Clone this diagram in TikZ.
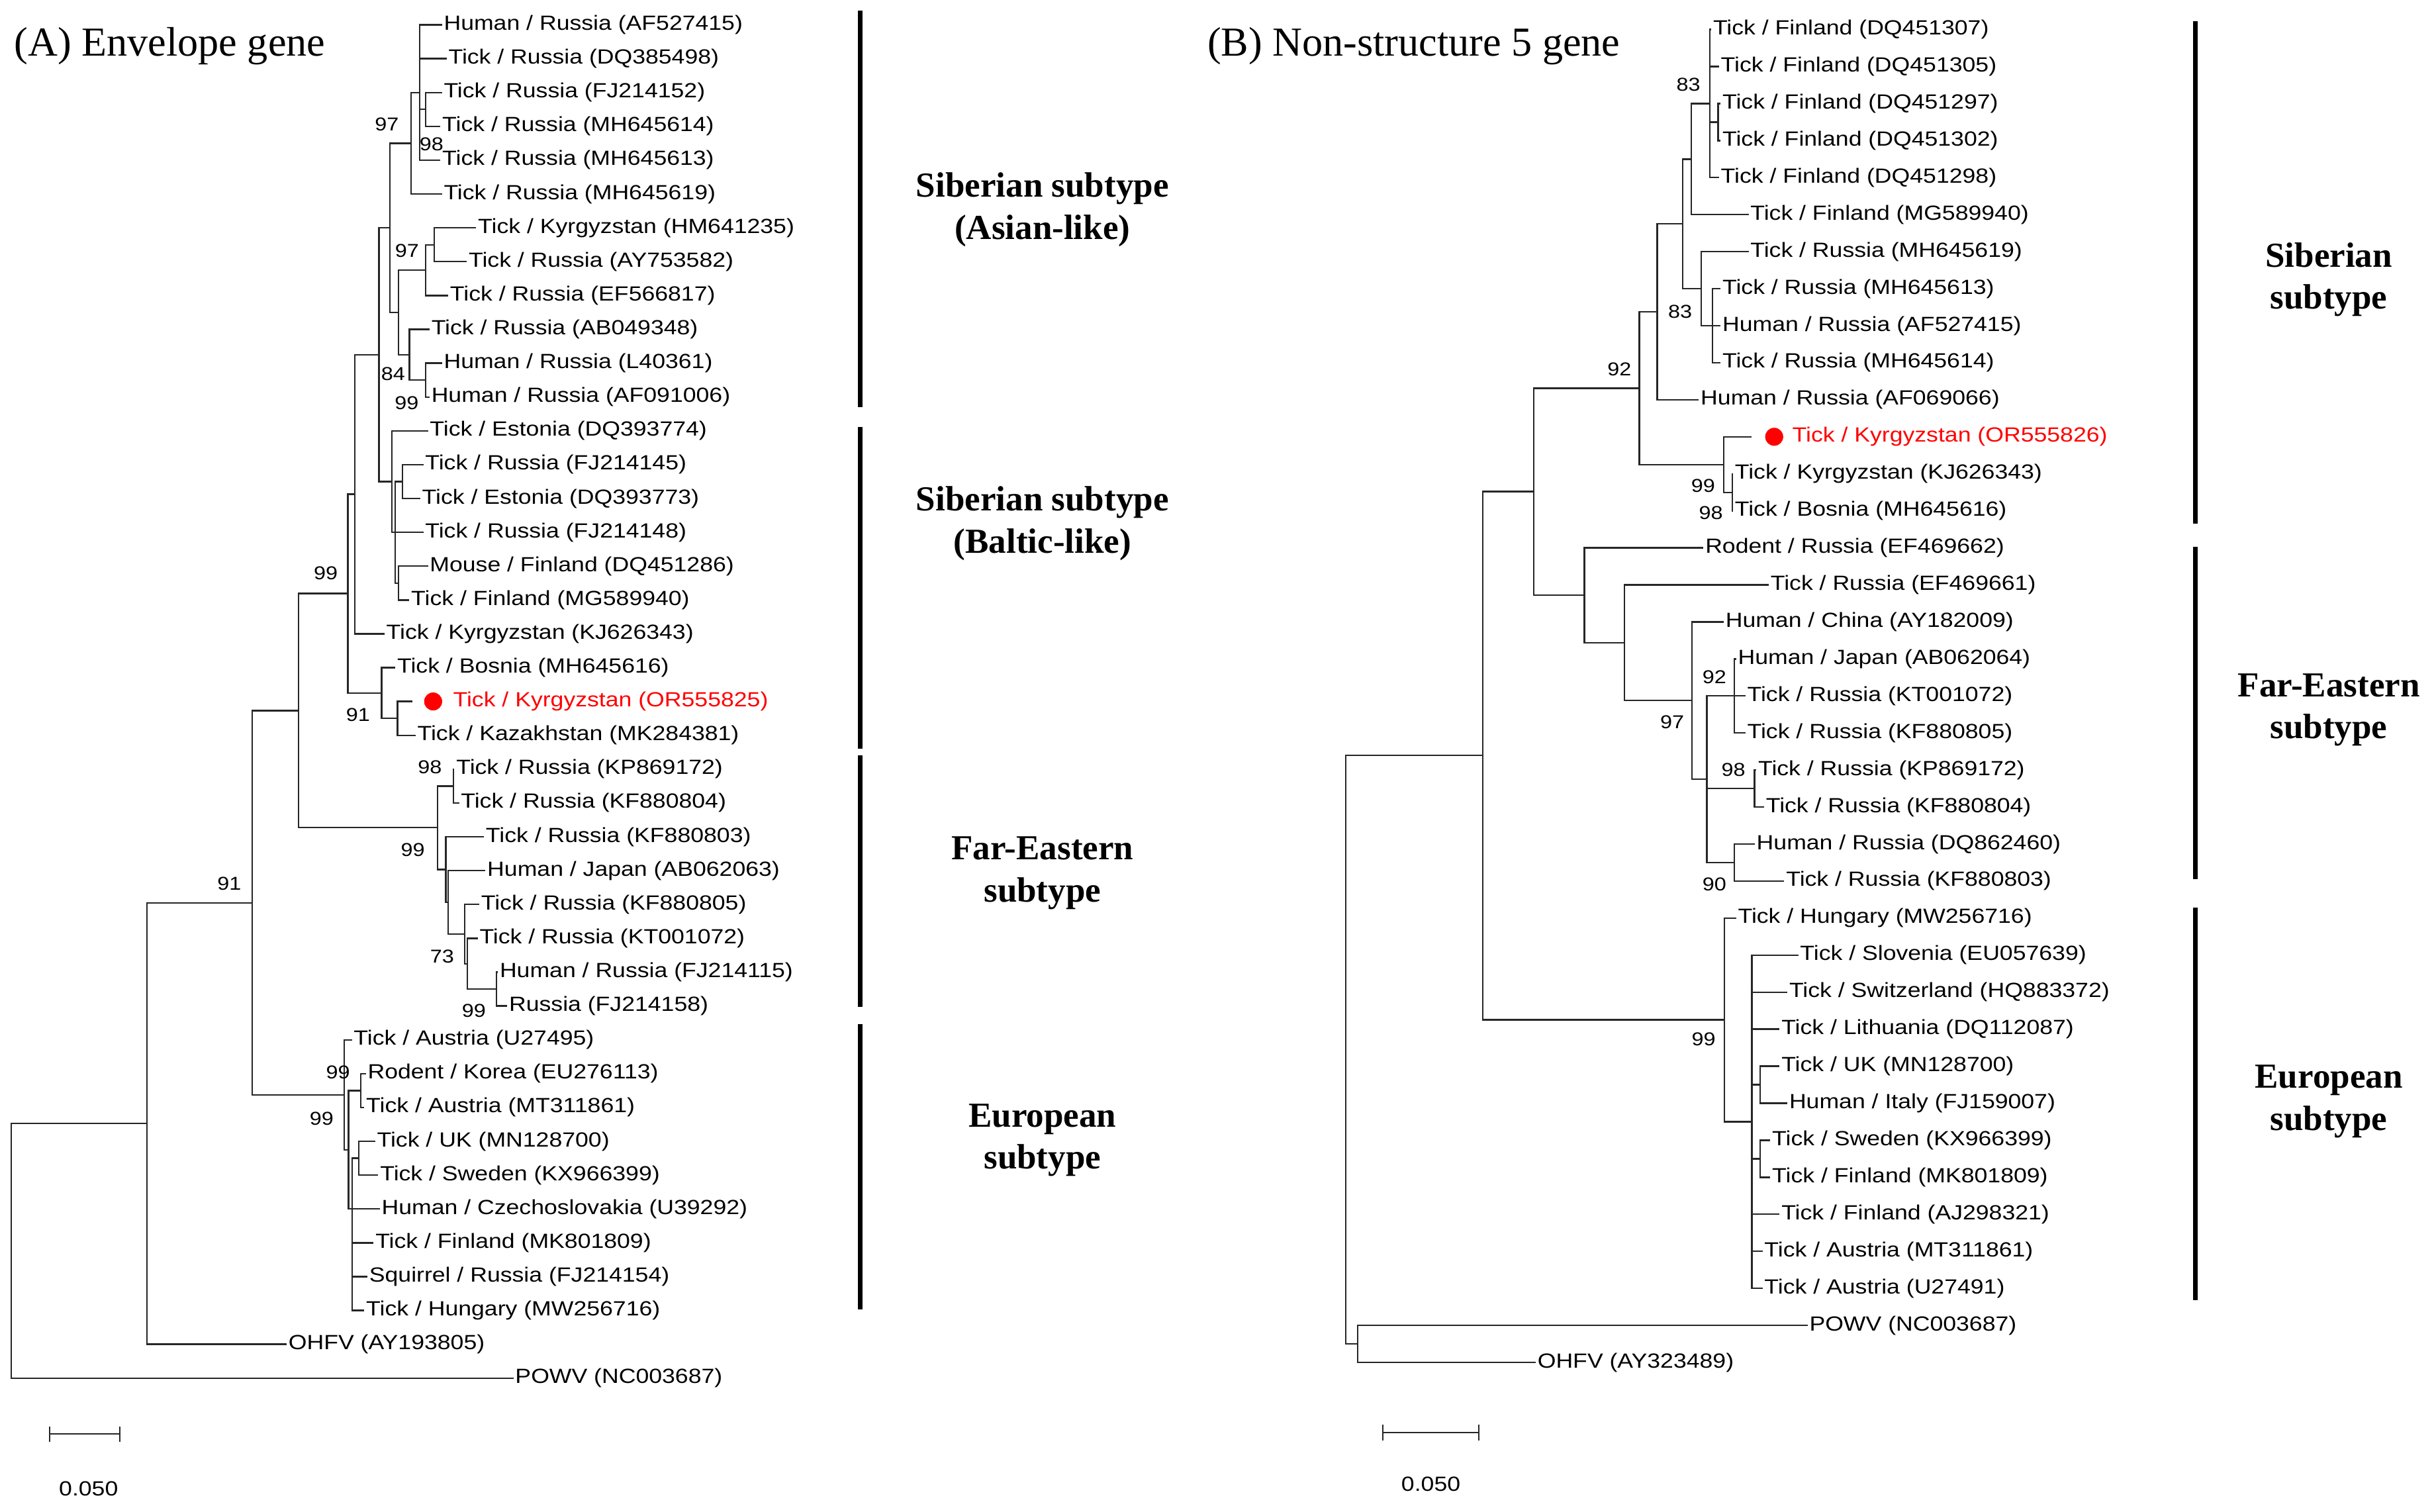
\documentclass[tikz,border=0pt]{standalone}
\usepackage{fontspec}
\newfontfamily\tipfamily[FakeStretch=1.15]{Liberation Sans}
\newfontfamily\serifamily{Liberation Serif}
\newcommand\tipfont{\tipfamily\fontsize{13.2}{15}\selectfont}
\newcommand\bootfont{\tipfamily\fontsize{12}{14}\selectfont}
\newcommand\cladefont{\serifamily\bfseries\fontsize{22.6}{27}\selectfont}
\newcommand\panelfont{\serifamily\fontsize{26.5}{30}\selectfont}

\tikzset{
branch/.style={draw=black!85,line width=1pt},
tip/.style={anchor=west,inner sep=1pt,font=\tipfont},
boot/.style={inner sep=0pt,font=\bootfont},
hit dot/.style={circle,fill=red,inner sep=0pt,minimum size=11.6pt},
clade bar/.style={line width=3pt},
clade name/.style={align=center,font=\cladefont},
panel title/.style={anchor=west,inner sep=0pt,font=\panelfont},
}

\begin{document}
\begin{tikzpicture}[x=1pt,y=-1pt]
\useasboundingbox (0,0) rectangle (1568,973);

\node[panel title] (e-title) at (9,29.5) {(A) Envelope gene};
\node[panel title] (n-title) at (777,29.5) {(B) Non-structure 5 gene};

% (A) envelope tree, one unit of y per row
\begin{scope}[y=-21.775pt,yshift=5.775pt]
\foreach \x/\c/\t [count=\i] in {
286/black/{Human / Russia (AF527415)},
289/black/{Tick / Russia (DQ385498)},
286/black/{Tick / Russia (FJ214152)},
285/black/{Tick / Russia (MH645614)},
285/black/{Tick / Russia (MH645613)},
286/black/{Tick / Russia (MH645619)},
308/black/{Tick / Kyrgyzstan (HM641235)},
302/black/{Tick / Russia (AY753582)},
290/black/{Tick / Russia (EF566817)},
278/black/{Tick / Russia (AB049348)},
286/black/{Human / Russia (L40361)},
278/black/{Human / Russia (AF091006)},
277/black/{Tick / Estonia (DQ393774)},
274/black/{Tick / Russia (FJ214145)},
272/black/{Tick / Estonia (DQ393773)},
274/black/{Tick / Russia (FJ214148)},
277/black/{Mouse / Finland (DQ451286)},
265/black/{Tick / Finland (MG589940)},
249/black/{Tick / Kyrgyzstan (KJ626343)},
256/black/{Tick / Bosnia (MH645616)},
292/red/{Tick / Kyrgyzstan (OR555825)},
269/black/{Tick / Kazakhstan (MK284381)},
294/black/{Tick / Russia (KP869172)},
297/black/{Tick / Russia (KF880804)},
313/black/{Tick / Russia (KF880803)},
314/black/{Human / Japan (AB062063)},
310/black/{Tick / Russia (KF880805)},
309/black/{Tick / Russia (KT001072)},
322/black/{Human / Russia (FJ214115)},
328/black/{Russia (FJ214158)},
228/black/{Tick / Austria (U27495)},
237/black/{Rodent / Korea (EU276113)},
236/black/{Tick / Austria (MT311861)},
243/black/{Tick / UK (MN128700)},
245/black/{Tick / Sweden (KX966399)},
246/black/{Human / Czechoslovakia (U39292)},
242/black/{Tick / Finland (MK801809)},
238/black/{Squirrel / Russia (FJ214154)},
236/black/{Tick / Hungary (MW256716)},
186/black/{OHFV (AY193805)},
332/black/{POWV (NC003687)}}
\node[tip,text=\c] (e-\i) at (\x-1.5,\i) {\t};
\node[hit dot] (e-dot) at (278.8,21) {};
\coordinate (e-21t) at (265.6,21);

\foreach \n/\x/\y in {n1/274/3.5, n2/270/3, n3/264.6/4.5, n4/279.6/7.5,
n5/274/8.25, n6/274/11.5, n7/263.6/10.75, n8/256.5/9.5, n9/250.9/7,
n10/259/14.5, n11/256.5/17.5, n12/254.3/16, n13/252.2/14.5, n14/243.9/10.75,
n15/228.3/14.875, n16/255.9/21.5, n17/245.6/20.75, n18/223.9/17.81,
n19/291.9/23.5, n20/319.6/29.5, n21/300.7/28.75, n22/299.2/27.875,
n23/288.4/26.94, n24/287/25.97, n25/281.6/24.73, n26/192.3/21.27,
n27/232.1/32.5, n28/230.8/34.5, n29/226.6/36, n30/224.3/34.25,
n31/221.7/32.625, n32/162.2/26.95, n33/94.5/33.47, n34/7.2/37.24}
\coordinate (e-\n) at (\x,\y);

\foreach \p/\c in {n2/1, n2/2, n1/3, n1/4, n2/5, n3/6, n4/7, n4/8, n5/9,
n7/10, n6/11, n6/12, n13/13, n10/14, n10/15, n12/16, n11/17, n11/18,
n15/19, n17/20, n16/22, n19/23, n19/24, n24/25, n23/26, n22/27, n21/28,
n20/29, n20/30, n31/31, n27/32, n27/33, n28/34, n28/35, n29/36, n29/37,
n29/38, n29/39, n33/40, n34/41}
\draw[branch] (e-\p) |- (e-\c.west);
\foreach \p/\c in {n2/n1, n3/n2, n5/n4, n7/n6, n8/n5, n8/n7, n9/n3, n9/n8,
n12/n10, n12/n11, n13/n12, n14/n9, n14/n13, n15/n14, n16/21t, n17/n16,
n18/n15, n18/n17, n21/n20, n22/n21, n23/n22, n24/n23, n25/n19, n25/n24,
n26/n18, n26/n25, n30/n27, n29/n28, n30/n29, n31/n30, n32/n26, n32/n31,
n33/n32, n34/n33}
\draw[branch] (e-\p) |- (e-\c);

\foreach \x/\y/\v [count=\k] in {249/3.94/97, 277.8/4.52/98, 262/7.68/97,
253/11.31/84, 261.8/12.17/99, 209.7/17.21/99, 230.5/21.39/91,
276.7/22.95/98, 265.7/25.39/99, 284.6/28.54/73, 305/30.14/99,
147.6/26.38/91, 217.6/31.96/99, 207/33.33/99}
\node[boot] (e-boot\k) at (\x,\y) {\v};
\end{scope}

% (B) NS5 tree
\begin{scope}[y=-23.83pt,yshift=4.83pt]
\foreach \x/\c/\t [count=\i] in {
1103/black/{Tick / Finland (DQ451307)},
1108/black/{Tick / Finland (DQ451305)},
1109/black/{Tick / Finland (DQ451297)},
1109/black/{Tick / Finland (DQ451302)},
1108/black/{Tick / Finland (DQ451298)},
1127/black/{Tick / Finland (MG589940)},
1127/black/{Tick / Russia (MH645619)},
1109/black/{Tick / Russia (MH645613)},
1109/black/{Human / Russia (AF527415)},
1109/black/{Tick / Russia (MH645614)},
1095/black/{Human / Russia (AF069066)},
1154/red/{Tick / Kyrgyzstan (OR555826)},
1117/black/{Tick / Kyrgyzstan (KJ626343)},
1117/black/{Tick / Bosnia (MH645616)},
1098/black/{Rodent / Russia (EF469662)},
1140/black/{Tick / Russia (EF469661)},
1111/black/{Human / China (AY182009)},
1119/black/{Human / Japan (AB062064)},
1125/black/{Tick / Russia (KT001072)},
1125/black/{Tick / Russia (KF880805)},
1132/black/{Tick / Russia (KP869172)},
1137/black/{Tick / Russia (KF880804)},
1131/black/{Human / Russia (DQ862460)},
1150/black/{Tick / Russia (KF880803)},
1119/black/{Tick / Hungary (MW256716)},
1159/black/{Tick / Slovenia (EU057639)},
1152/black/{Tick / Switzerland (HQ883372)},
1147/black/{Tick / Lithuania (DQ112087)},
1147/black/{Tick / UK (MN128700)},
1152/black/{Human / Italy (FJ159007)},
1141/black/{Tick / Sweden (KX966399)},
1141/black/{Tick / Finland (MK801809)},
1147/black/{Tick / Finland (AJ298321)},
1136/black/{Tick / Austria (MT311861)},
1136/black/{Tick / Austria (U27491)},
1165/black/{POWV (NC003687)},
990/black/{OHFV (AY323489)}}
\node[tip,text=\c] (n-\i) at (\x-1.5,\i) {\t};
\node[hit dot] (n-dot) at (1142,12) {};
\coordinate (n-12t) at (1127.2,12);

\foreach \n/\x/\y in {n1/1105.9/3.5, n2/1100.7/3, n3/1088.5/4.5,
n4/1102.2/9, n5/1095/8, n6/1083/6.25, n7/1066.7/8.625, n8/1115/13.5,
n9/1109.5/12.75, n10/1055.2/10.69, n11/1116.3/19, n12/1129.4/21.5,
n13/1116.3/23.5, n14/1098.6/21.25, n15/1089.1/19.125, n16/1045.7/17.56,
n17/1019.8/16.28, n18/987.2/13.48, n19/1132.9/29.5, n20/1132.9/31.5,
n21/1127.6/30.5, n22/1109.9/27.75, n23/954.3/20.6, n24/873.9/36.5,
n25/866.1/28.55}
\coordinate (n-\n) at (\x,\y);

\foreach \p/\c in {n2/1, n2/2, n1/3, n1/4, n2/5, n3/6, n5/7, n4/8, n4/9,
n4/10, n7/11, n8/13, n8/14, n17/15, n16/16, n15/17, n11/18, n11/19,
n11/20, n12/21, n12/22, n13/23, n13/24, n22/25, n21/26, n21/27, n21/28,
n19/29, n19/30, n20/31, n20/32, n21/33, n21/34, n21/35, n24/36, n24/37}
\draw[branch] (n-\p) |- (n-\c.west);
\foreach \p/\c in {n2/n1, n3/n2, n5/n4, n6/n3, n6/n5, n7/n6, n9/12t, n9/n8,
n10/n7, n10/n9, n14/n11, n14/n12, n14/n13, n15/n14, n16/n15, n17/n16,
n18/n10, n18/n17, n21/n19, n21/n20, n22/n21, n23/n18, n23/n22, n25/n23,
n25/n24}
\draw[branch] (n-\p) |- (n-\c);

\foreach \x/\y/\v [count=\k] in {1086.8/2.49/83, 1081.4/8.62/83,
1042.4/10.17/92, 1096.3/13.32/99, 1101.3/14.05/98, 1103.5/18.49/92,
1076.3/19.7/97, 1115.7/20.99/98, 1103.5/24.09/90, 1096.6/28.27/99}
\node[boot] (n-boot\k) at (\x,\y) {\v};
\end{scope}

% subtype bars and names
\foreach \a/\b in {7/262, 275/482, 486/648, 659/843}
\draw[clade bar] (553.5,\a) -- (553.5,\b);
\foreach \a/\b in {13.6/337, 352/566, 584/837}
\draw[clade bar] (1413,\a) -- (1413,\b);

\node[clade name] (e-asian) at (671,135) {Siberian subtype\\(Asian-like)};
\node[clade name] (e-baltic) at (671,337) {Siberian subtype\\(Baltic-like)};
\node[clade name] (e-fareast) at (671,562) {Far-Eastern\\subtype};
\node[clade name] (e-europe) at (671,734) {European\\subtype};
\node[clade name] (n-siberian) at (1499,180) {Siberian\\subtype};
\node[clade name] (n-fareast) at (1499,457) {Far-Eastern\\subtype};
\node[clade name] (n-europe) at (1499,709) {European\\subtype};

% scale bars
\draw[branch] (32,918) -- (32,928) (32,923) -- (77,923) (77,918) -- (77,928);
\node[font=\tipfont] (e-scale) at (57,958) {0.050};
\draw[branch] (890,917) -- (890,927) (890,922) -- (952,922) (952,917) -- (952,927);
\node[font=\tipfont] (n-scale) at (921,955) {0.050};
\end{tikzpicture}
\end{document}
